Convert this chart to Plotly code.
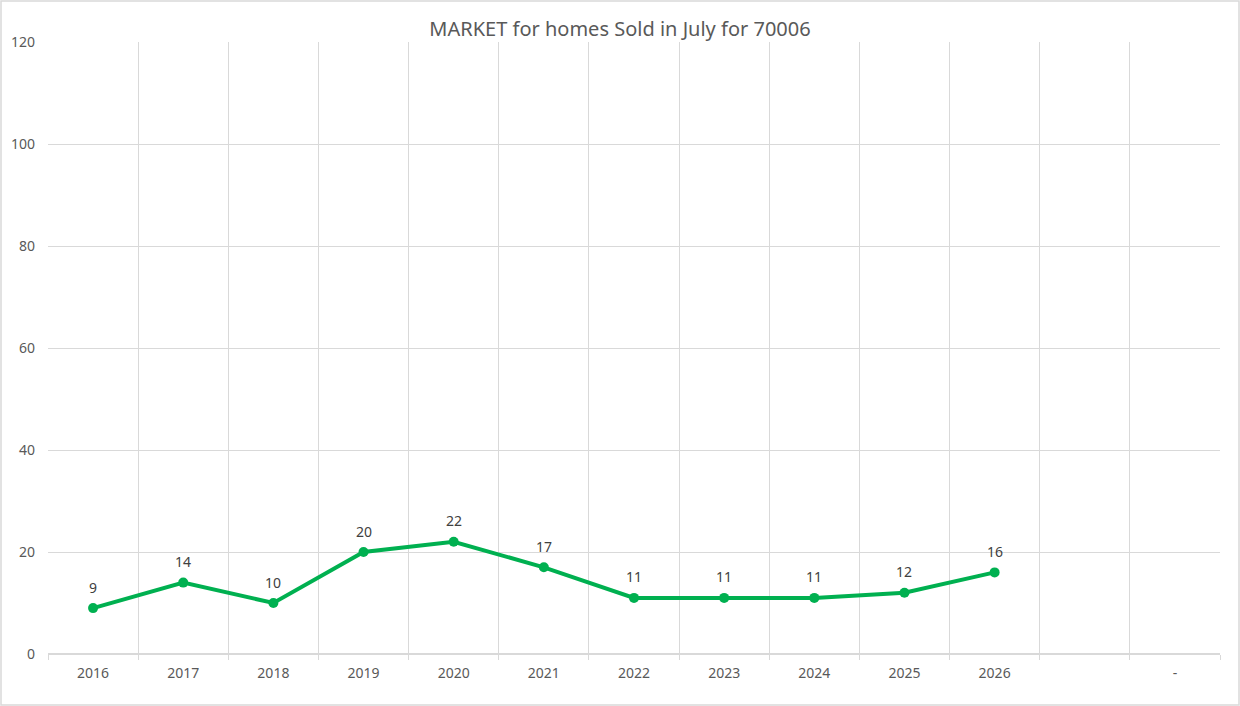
import plotly.graph_objects as go

categories = ["2016", "2017", "2018", "2019", "2020", "2021", "2022", "2023", "2024", "2025", "2026", "", "-"]
sold = [9, 14, 10, 20, 22, 17, 11, 11, 11, 12, 16, None, None]
y_ticks = [0, 20, 40, 60, 80, 100, 120]
title_text = "MARKET for homes Sold in July for 70006"

x_idx = list(range(len(categories)))

fig = go.Figure()
fig.add_trace(go.Scatter(
    x=x_idx, y=sold, mode="lines+markers",
    line=dict(color="#00B050", width=4),
    marker=dict(color="#00B050", size=10),
    showlegend=False, hoverinfo="skip",
))
for xi, v in zip(x_idx, sold):
    if v is not None:
        fig.add_annotation(x=xi, y=v, text=str(v), showarrow=False, yshift=21,
                           font=dict(family="Noto Sans", size=14, color="#404040"))

W, H = 1240, 706
L, R, T, B = 48, 20, 42, 52
pw, ph = W - L - R, H - T - B

fig.update_layout(
    width=W, height=H,
    margin=dict(l=L, r=R, t=T, b=B, pad=0),
    paper_bgcolor="white", plot_bgcolor="white",
    font=dict(family="Noto Sans", size=14, color="#595959"),
    title=dict(text=title_text, x=0.5, xanchor="center", y=1 - 29 / H, yanchor="middle",
               font=dict(family="Noto Sans", size=20, color="#595959")),
)
fig.add_shape(type="rect", xref="paper", yref="paper",
              x0=-(L - 1) / pw, x1=1 + (R - 1) / pw, y0=-(B - 1) / ph, y1=1 + (T - 1) / ph,
              line=dict(color="#D9D9D9", width=1.5))

fig.update_xaxes(
    range=[-0.5, len(categories) - 0.5], automargin=False,
    tickmode="array", tickvals=x_idx, ticktext=categories,
    showgrid=False, zeroline=False, showline=False,
    ticks="", ticklabelstandoff=9,
    tickfont=dict(size=14, color="#595959"),
    minor=dict(tick0=-0.5, dtick=1, showgrid=True, gridcolor="#D9D9D9", gridwidth=1,
               ticks="outside", ticklen=5, tickcolor="#D9D9D9"),
)
fig.update_yaxes(
    range=[0, 120], tickmode="array", tickvals=y_ticks, automargin=False,
    showgrid=True, gridcolor="#D9D9D9", gridwidth=1,
    zeroline=True, zerolinecolor="#D9D9D9", zerolinewidth=1.5,
    showline=False, ticks="", ticklabelstandoff=12,
    tickfont=dict(size=14, color="#595959"),
)

fig.write_html("out.html", config={"displayModeBar": False},
               post_script="document.body.style.margin='0';")
